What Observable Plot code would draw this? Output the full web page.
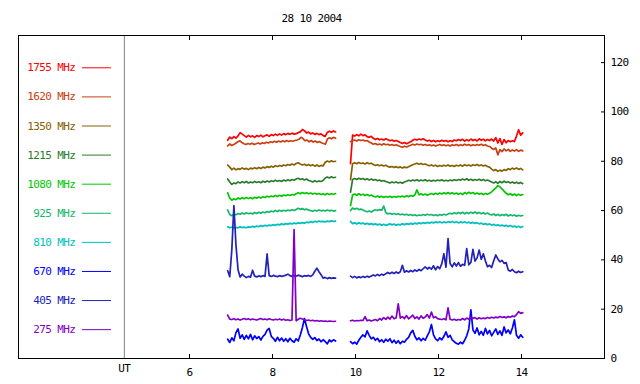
<!DOCTYPE html>
<html><head><meta charset="utf-8">
<script src="https://cdn.jsdelivr.net/npm/d3@7"></script>
<script src="https://cdn.jsdelivr.net/npm/@observablehq/plot@0.6"></script>
<style>
html,body{margin:0;padding:0;background:#fff;}
#chart svg text{letter-spacing:-0.6px;}
</style></head><body><div id="chart"></div>
<script>
const title = "28 10 2004";
const freqLabels = ["1755 MHz","1620 MHz","1350 MHz","1215 MHz","1080 MHz","925 MHz","810 MHz","670 MHz","405 MHz","275 MHz"];
const colors = ["#ff0000","#c84010","#886000","#2a7d2a","#00c800","#10b868","#00c0c0","#0000ff","#2222bb","#8000c8"];
const xTicks = [6,8,10,12,14];
const yTicks = [0,20,40,60,80,100,120];
const leftSpan = [6.92, 9.52];
const rightSpan = [9.88, 14.03];
const utHour = 4.43;

const f1755L = [88.5,89.8,89.2,90.0,89.4,90.3,91.6,91.0,90.4,89.8,90.5,89.9,90.3,89.7,90.4,90.0,90.6,89.9,90.3,90.7,90.1,90.8,90.4,91.0,90.5,91.1,90.6,91.2,90.8,91.3,90.9,91.4,91.0,91.2,91.6,91.9,92.9,92.4,91.5,91.8,91.1,91.5,90.9,91.3,90.8,91.1,90.4,90.1,91.7,92.2,91.8,92.3,91.9];
const f1755R = [79.0,90.6,90.2,90.8,90.3,91.0,90.4,90.7,90.0,89.7,90.1,89.3,88.8,89.2,88.7,89.0,88.6,89.1,88.7,88.3,88.6,88.1,88.4,88.0,87.6,87.2,87.6,87.1,87.5,87.9,88.5,88.9,88.6,89.0,88.7,89.1,88.6,88.2,88.5,88.0,88.4,87.9,88.3,88.0,88.5,88.1,88.4,87.9,88.3,88.0,88.6,88.3,88.8,88.4,88.9,88.2,88.7,88.3,89.0,88.4,88.8,88.2,89.1,88.5,88.9,88.3,88.8,88.4,89.0,88.2,89.6,87.4,89.2,86.8,88.8,87.5,88.4,87.9,88.3,88.0,90.2,92.8,90.6,91.5];
const f1620L = [86.2,87.0,86.4,86.8,87.3,87.9,88.3,87.6,87.1,86.8,87.2,86.9,87.3,86.8,87.1,87.4,87.0,87.5,87.2,87.7,87.4,87.9,87.6,88.1,87.7,88.2,87.8,88.3,87.9,88.4,88.0,88.3,88.1,88.4,88.6,88.9,89.7,89.2,88.3,88.6,87.9,88.4,87.8,88.2,87.6,88.0,87.5,87.2,86.9,89.0,89.5,89.1,89.7,89.3];
const f1620R = [88.0,88.3,88.6,88.2,88.7,88.4,88.6,88.2,88.4,87.8,87.4,86.9,87.2,86.7,87.0,86.6,87.1,86.7,86.9,86.5,86.8,86.4,86.7,86.3,86.0,85.7,86.1,85.8,86.2,86.5,86.9,86.6,87.0,86.7,86.9,86.5,86.8,86.4,86.7,86.3,86.6,86.2,86.5,86.8,86.4,86.7,86.3,86.6,86.2,86.7,86.4,86.8,86.3,86.7,86.4,86.9,86.5,86.8,86.3,86.7,86.4,86.8,86.5,86.9,86.4,86.7,86.2,86.0,85.3,84.8,85.4,82.6,84.7,83.9,85.0,84.2,84.8,84.0,84.6,84.1,84.7,84.0,84.5,84.2];
const f1350L = [78.4,77.6,76.6,77.2,76.5,77.0,76.7,77.3,76.8,77.1,76.6,77.2,76.9,77.4,77.0,77.5,77.1,77.6,77.3,77.8,77.5,78.0,77.6,78.2,77.9,78.3,78.0,78.5,78.2,78.7,78.4,78.9,78.5,79.1,79.4,78.9,78.5,78.8,78.3,78.7,78.2,78.6,78.0,78.5,77.9,78.3,78.1,79.6,80.1,79.7,80.2,79.8,80.0];
const f1350R = [72.5,79.0,79.4,79.0,79.5,79.1,79.3,78.9,79.4,79.0,79.2,78.7,78.3,78.6,78.2,78.5,78.1,78.4,77.9,77.6,77.9,77.5,77.8,77.4,77.7,77.3,77.6,77.4,77.8,78.2,78.6,78.9,79.2,78.8,79.1,78.7,78.9,78.5,78.2,78.5,78.1,78.4,77.9,78.3,78.0,78.4,78.1,78.5,78.0,78.3,77.9,78.4,78.1,78.5,78.0,78.6,78.2,78.5,78.1,78.6,78.3,78.7,78.2,78.5,78.1,78.4,77.9,77.6,76.8,76.2,76.6,75.9,76.4,76.0,76.6,76.3,77.0,76.6,77.2,76.8,77.3,76.7,77.1,76.5];
const f1215L = [72.8,71.6,70.6,71.2,70.9,71.6,71.2,71.7,71.3,71.8,71.2,71.6,71.3,71.8,71.4,71.7,71.3,71.9,71.5,72.0,71.6,72.1,71.8,72.3,71.9,72.2,71.8,72.4,72.0,72.5,72.1,72.6,72.3,72.8,73.1,72.6,72.9,72.4,72.8,72.2,72.0,71.6,72.1,71.7,72.0,71.8,72.2,73.2,73.6,73.2,73.7,73.3,73.5];
const f1215R = [67.5,72.6,73.0,72.6,73.1,72.7,73.0,72.5,72.9,72.4,72.8,72.3,72.6,72.1,72.4,71.9,72.2,71.8,71.5,71.2,71.6,71.3,71.6,71.2,71.5,71.1,71.6,71.9,72.3,72.0,72.4,72.1,72.5,72.0,72.4,72.1,72.5,72.0,72.3,71.9,72.3,72.0,72.4,72.1,72.5,72.0,72.3,72.0,72.4,72.1,72.5,72.2,72.6,72.3,72.8,72.4,72.9,72.3,72.7,72.2,72.6,72.3,72.7,72.2,72.6,72.1,72.4,72.0,71.6,71.2,71.7,71.0,71.8,71.3,71.9,71.4,71.7,71.2,71.6,71.1,71.5,71.0,71.4,70.9];
const f1080L = [67.2,65.0,64.2,64.8,64.4,65.1,64.7,65.2,64.8,65.3,64.9,65.2,64.8,65.4,65.0,65.5,65.1,65.6,65.3,65.8,65.5,65.9,65.6,66.1,65.7,66.2,65.8,66.3,66.0,66.4,66.1,66.5,66.3,66.8,67.2,66.8,67.3,66.9,67.2,66.8,67.1,66.7,67.0,66.6,66.9,66.5,66.8,66.4,66.9,66.5,66.8,66.6,66.9];
const f1080R = [62.0,66.3,66.7,66.2,66.8,66.3,66.6,66.1,66.5,66.0,66.3,65.8,65.5,65.9,65.4,65.8,65.3,65.7,65.4,65.8,65.3,65.7,65.4,65.8,65.5,65.9,65.5,66.0,65.6,66.1,65.8,66.3,68.4,66.4,66.8,66.3,66.7,66.2,66.6,66.9,66.5,67.0,66.6,67.1,66.7,67.2,66.8,67.3,66.8,67.2,66.7,67.1,66.6,67.0,66.5,67.3,66.8,67.4,66.9,67.3,66.7,67.1,66.6,67.0,66.5,66.9,66.6,67.0,67.6,68.4,69.2,70.1,69.6,68.8,67.9,67.0,66.4,66.8,66.2,66.7,66.1,66.6,66.2,66.5];
const f925L = [60.2,58.4,57.9,58.5,58.3,58.8,58.5,59.0,58.6,59.1,58.7,59.0,58.6,59.2,58.8,59.3,58.9,59.4,59.1,59.6,59.3,59.8,59.5,60.0,59.6,60.1,59.7,60.1,59.8,60.2,59.9,60.3,60.0,60.4,60.9,60.5,60.8,60.3,60.6,60.2,60.0,59.7,60.1,59.8,60.2,59.9,60.1,59.8,60.2,59.9,60.1,59.8,60.0];
const f925R = [60.0,61.0,60.5,60.9,60.4,60.6,60.2,59.8,59.5,59.8,59.4,59.9,60.3,60.0,60.4,60.1,61.8,59.2,58.6,58.9,58.5,58.8,58.4,58.7,58.3,58.6,58.2,58.5,58.1,58.4,58.0,58.3,57.9,58.2,58.0,58.4,58.1,58.5,58.2,58.4,58.0,58.3,57.9,58.4,58.1,58.5,58.2,58.6,58.9,58.6,59.1,58.7,59.2,58.8,59.3,58.7,59.2,58.8,59.3,58.9,59.4,58.8,59.2,58.7,59.1,58.6,59.0,58.5,58.2,58.6,58.0,58.5,57.9,58.4,58.0,58.5,57.8,58.3,57.9,58.2,57.7,58.1,57.8,58.0];
const f810L = [53.4,53.0,53.3,52.9,53.2,53.0,53.4,53.1,53.3,53.0,53.4,53.2,53.6,53.3,53.7,53.5,53.9,53.6,54.0,53.8,54.1,53.9,54.3,54.0,54.4,54.2,54.6,54.3,54.7,54.5,54.8,54.6,54.9,54.7,55.0,54.8,55.1,54.9,55.3,55.1,55.5,55.2,55.6,55.4,55.7,55.5,55.6,55.4,55.7,55.5,55.8,55.6,55.7];
const f810R = [55.6,54.7,55.0,54.6,55.0,54.7,54.9,54.5,54.8,54.4,54.7,54.3,54.6,54.2,54.5,54.1,54.4,54.0,54.3,54.6,54.2,54.5,54.1,54.4,54.2,54.6,54.3,54.7,54.4,54.8,54.5,54.9,54.6,55.0,54.7,55.1,54.8,55.2,54.9,55.3,55.0,55.4,55.1,55.5,55.0,55.4,55.1,55.5,55.2,55.6,55.1,55.5,55.0,55.4,55.1,55.5,55.0,55.3,54.9,55.2,54.8,55.1,54.6,54.9,54.4,54.7,54.3,54.6,54.1,54.4,53.9,54.2,53.8,54.1,53.7,54.0,53.5,53.9,53.4,53.7,53.2,53.6,53.1,53.5];
const f670L = [7.8,6.5,8.4,7.2,10.5,12.0,8.2,9.6,7.8,9.4,8.0,9.8,7.6,9.2,8.1,8.9,7.5,9.0,9.8,11.5,12.2,9.0,8.2,7.0,8.6,7.2,8.3,7.0,8.0,6.8,8.2,7.2,6.6,8.0,7.1,9.5,12.5,16.2,13.0,10.0,8.6,7.8,8.5,7.3,7.9,6.8,7.6,6.9,5.9,7.5,6.8,7.6,7.1];
const f670R = [6.8,6.0,6.6,5.8,7.4,8.6,9.6,8.8,11.2,9.4,8.0,8.6,7.4,8.2,6.8,7.6,6.6,7.8,7.0,8.0,6.4,7.4,6.2,7.2,6.0,7.0,6.6,7.8,8.6,10.4,11.4,9.0,7.6,8.4,7.2,8.2,7.4,9.2,10.8,13.8,9.6,8.0,7.2,8.4,7.6,9.0,10.8,8.6,9.4,7.6,6.8,6.2,5.8,6.6,6.0,7.4,9.2,12.0,19.7,11.6,10.2,12.4,9.6,11.0,9.4,12.2,10.0,11.4,9.2,10.6,12.0,9.8,11.2,9.4,12.8,10.4,11.6,10.0,12.4,15.7,9.4,8.2,9.6,8.6];
const f405L = [35.6,33.2,44,62,46,36,33.0,34.2,33.4,32.8,33.3,33.0,35.8,33.4,33.1,33.5,33.2,33.6,33.3,42.4,33.6,33.3,33.7,33.4,33.2,33.6,33.3,33.5,33.8,34.2,33.6,33.3,33.7,33.4,33.8,33.5,33.2,33.6,33.4,33.7,33.3,33.9,35.4,36.6,35.2,34.0,32.6,32.9,32.4,32.8,32.5,32.7,32.6];
const f405R = [33.4,32.8,33.3,32.7,33.1,32.8,33.3,32.9,33.4,33.0,33.5,33.9,33.5,34.1,33.6,34.2,33.8,34.4,34.9,34.4,35.0,34.5,35.1,34.6,35.2,37.8,35.0,35.6,35.1,35.7,35.2,35.9,35.4,36.1,35.6,36.4,37.2,36.3,37.0,36.2,37.6,36.0,37.3,36.4,38.5,42.5,37.0,48.6,38.5,37.2,38.8,37.5,38.9,37.4,38.2,37.8,44.6,38.0,39.0,44.3,39.5,40.8,44.0,40.2,42.5,39.6,37.2,37.8,36.9,39.6,42.0,40.4,39.2,39.8,38.6,38.9,35.9,35.4,36.1,35.2,34.8,35.4,34.9,35.2];
const f275L = [17.6,16.0,15.8,16.1,15.7,16.0,15.6,15.9,16.2,15.8,16.1,15.7,16.0,15.8,15.6,15.9,16.2,15.8,16.0,15.7,16.1,15.8,15.6,15.9,15.7,16.0,15.6,15.9,15.5,15.7,15.4,15.6,52.3,15.3,15.9,16.3,16.0,15.7,15.4,15.6,15.3,15.5,15.2,15.4,15.1,15.3,15.1,15.2,15.0,15.2,15.1,15.0,15.1];
const f275R = [15.3,15.5,15.2,15.4,15.3,15.5,15.4,17.0,15.3,15.6,15.2,15.5,15.8,15.3,16.2,15.6,16.6,15.9,16.8,16.0,17.2,16.1,16.5,22.2,16.4,17.0,16.2,17.4,16.1,16.8,17.6,16.2,16.9,16.0,17.3,16.3,16.8,17.8,16.4,18.8,16.5,16.9,16.2,16.0,15.8,16.1,15.7,20.5,15.9,15.6,15.9,15.5,15.8,15.6,16.2,15.7,16.4,15.9,16.8,16.2,16.6,16.0,16.5,16.1,16.4,16.2,16.6,16.3,16.7,16.4,16.8,16.5,17.0,16.6,16.9,16.5,17.0,16.7,17.2,17.0,17.8,19.0,18.3,18.6];

const seriesPairs = [[f1755L,f1755R],[f1620L,f1620R],[f1350L,f1350R],[f1215L,f1215R],[f1080L,f1080R],[f925L,f925R],[f810L,f810R],[f670L,f670R],[f405L,f405R],[f275L,f275R]];

const rows = [];
seriesPairs.forEach(([L, R], k) => {
  [[L, leftSpan, "a"], [R, rightSpan, "b"]].forEach(([vals, [t0, t1], seg]) => {
    vals.forEach((v, i) => rows.push({t: t0 + i * (t1 - t0) / (vals.length - 1), v, color: colors[k], key: k + seg}));
  });
});

// legend layout (in data units)
const legendTop = 117.9, legendStep = 11.8;
const legendTextX = 3.25, legendLineX1 = 3.42, legendLineX2 = 4.12;

const plot = Plot.plot({
  width: 640, height: 384,
  marginTop: 35, marginBottom: 26, marginLeft: 18, marginRight: 36,
  x: {domain: [1.88, 16.0], axis: null},
  y: {domain: [0, 131], axis: null},
  style: {fontFamily: "'DejaVu Sans Mono', monospace", fontSize: "11px", background: "#fff", color: "#000", overflow: "visible"},
  marks: [
    Plot.ruleX([utHour], {stroke: "#808080"}),
    Plot.line(rows, {x: "t", y: "v", z: "key", stroke: "color", strokeWidth: 1.7}),
    Plot.frame({stroke: "#000"}),
    Plot.axisX({anchor: "top", ticks: xTicks, tickSize: 4, dy: 4, fill: "none", label: null}),
    Plot.axisX({anchor: "bottom", ticks: xTicks, tickSize: 4, dy: -4, fill: "none", label: null}),
    Plot.axisX({anchor: "bottom", ticks: xTicks, tickSize: 0, tickPadding: 10, stroke: "none", label: null}),
    Plot.axisY({anchor: "right", ticks: yTicks, tickSize: 4, dx: -4, fill: "none", label: null}),
    Plot.axisY({anchor: "right", ticks: yTicks, tickSize: 0, tickPadding: 6, stroke: "none", label: null}),
    Plot.text(freqLabels, {x: () => legendTextX, y: (d, i) => legendTop - i * legendStep, text: d => d, fill: (d, i) => colors[i], textAnchor: "end"}),
    Plot.ruleY(freqLabels, {y: (d, i) => legendTop - i * legendStep, x1: () => legendLineX1, x2: () => legendLineX2, stroke: (d, i) => colors[i]}),
    Plot.text([title], {text: d => d, frameAnchor: "top", dy: -21}),
    Plot.text(["UT"], {text: d => d, x: () => utHour, frameAnchor: "bottom", dy: 13})
  ]
});
document.getElementById("chart").appendChild(plot);
</script></body></html>
